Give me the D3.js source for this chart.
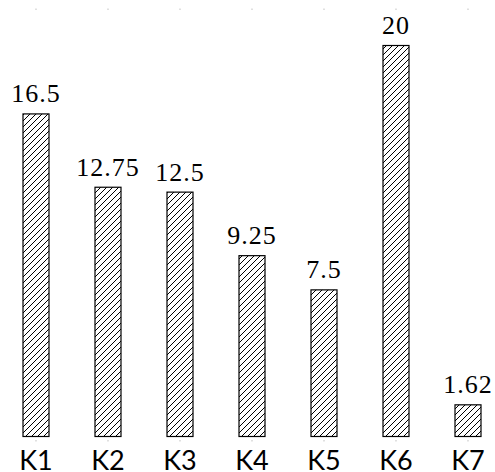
<!DOCTYPE html>
<html lang="en">
<head>
    <meta charset="UTF-8">
    <title>Bar Chart</title>
    <style>
        body { margin: 0; background: #fff; }
    </style>
</head>
<body>
<script src="https://d3js.org/d3.v7.min.js"></script>
<script>
    var categories = ["K1", "K2", "K3", "K4", "K5", "K6", "K7"];
    var values = [16.5, 12.75, 12.5, 9.25, 7.5, 20, 1.62];
    var labels = ["16.5", "12.75", "12.5", "9.25", "7.5", "20", "1.62"];

    var width = 495,
        height = 472;

    var svg = d3.select("body")
        .append("svg")
        .attr("width", width)
        .attr("height", height);

    // diagonal hatching like the pgfplots "north east lines"
    var defs = svg.append("defs");
    defs.append("pattern")
        .attr("id", "hatch")
        .attr("patternUnits", "userSpaceOnUse")
        .attr("width", 6)
        .attr("height", 6)
        .append("path")
        .attr("d", "M-1,1 l2,-2 M0,6 l6,-6 M5,7 l2,-2")
        .attr("stroke", "#000")
        .attr("stroke-width", 1);

    var x = d3.scaleBand()
        .domain(categories)
        .range([0, 504])
        .paddingInner(0.625)
        .paddingOuter(0.3125);

    var y = d3.scaleLinear()
        .domain([0, 20])
        .range([436, 45]);

    // little tick marks top and bottom
    svg.selectAll(".tick-top")
        .data(categories)
        .enter()
        .append("line")
        .attr("x1", function(d) { return x(d) + x.bandwidth() / 2; })
        .attr("x2", function(d) { return x(d) + x.bandwidth() / 2; })
        .attr("y1", 8.5)
        .attr("y2", 10)
        .attr("stroke", "#999")
        .attr("stroke-width", 0.6);

    svg.selectAll(".tick-bottom")
        .data(categories)
        .enter()
        .append("line")
        .attr("x1", function(d) { return x(d) + x.bandwidth() / 2; })
        .attr("x2", function(d) { return x(d) + x.bandwidth() / 2; })
        .attr("y1", 440)
        .attr("y2", 441.5)
        .attr("stroke", "#999")
        .attr("stroke-width", 0.6);

    svg.selectAll(".bar")
        .data(values)
        .enter()
        .append("rect")
        .attr("x", function(d, i) { return x(categories[i]) + 0.5; })
        .attr("y", function(d) { return y(d) + 0.5; })
        .attr("width", x.bandwidth() - 1)
        .attr("height", function(d) { return y(0) - y(d); })
        .attr("fill", "url(#hatch)")
        .attr("stroke", "#000")
        .attr("stroke-width", 1.2);

    svg.selectAll(".val")
        .data(values)
        .enter()
        .append("text")
        .attr("x", function(d, i) { return x(categories[i]) + x.bandwidth() / 2; })
        .attr("y", function(d) { return y(d) - 11; })
        .attr("text-anchor", "middle")
        .attr("font-family", "Liberation Serif")
        .attr("font-size", 26)
        .attr("letter-spacing", 1)
        .text(function(d, i) { return labels[i]; });

    svg.selectAll(".cat")
        .data(categories)
        .enter()
        .append("text")
        .attr("x", function(d) { return x(d) + x.bandwidth() / 2; })
        .attr("y", 470)
        .attr("text-anchor", "middle")
        .attr("font-family", "Lato")
        .attr("font-size", 27)
        .text(function(d) { return d; });
</script>
</body>
</html>
